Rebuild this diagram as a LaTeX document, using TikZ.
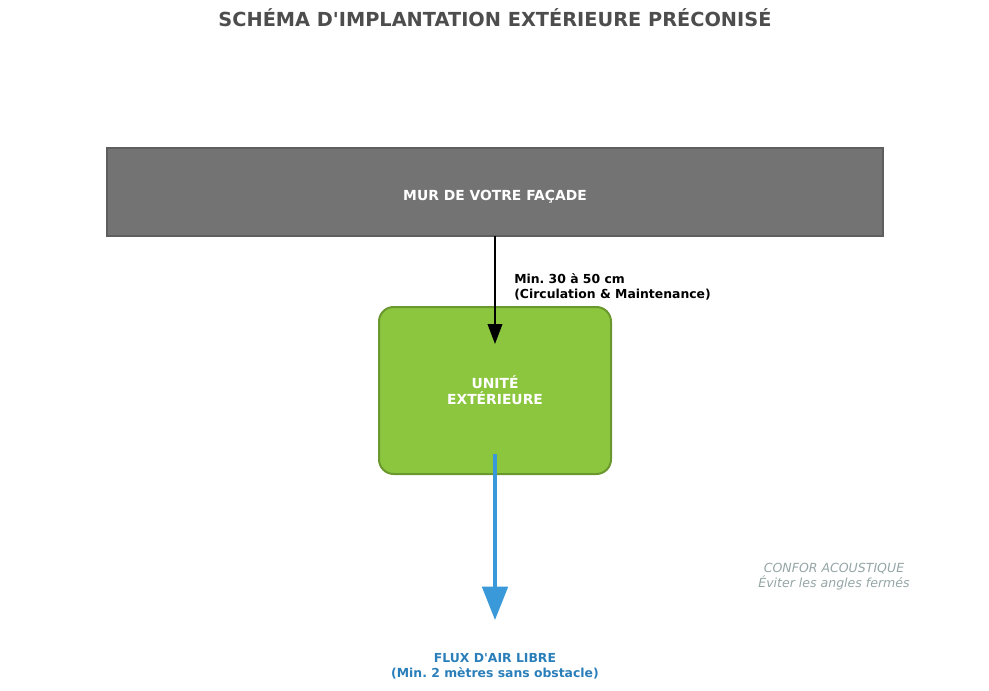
\documentclass[tikz,border=0pt]{standalone}
\usepackage{fontspec}
\setmainfont{DejaVu Sans}
\usetikzlibrary{arrows.meta}
\definecolor{wallc}{HTML}{737373}
\definecolor{walld}{HTML}{5E5E5E}
\definecolor{greenc}{HTML}{8CC63F}
\definecolor{greend}{HTML}{6B982E}
\definecolor{bluec}{HTML}{3A9AD9}
\definecolor{bluet}{HTML}{2A7FBA}
\definecolor{titlec}{HTML}{4D4D4D}
\definecolor{notec}{HTML}{95A5A6}
\tikzset{
 lbl/.style={font=\fontsize{9.3}{11.3}\selectfont\bfseries, align=center, inner sep=0},
 big/.style={font=\fontsize{10.4}{12}\selectfont\bfseries, align=center, inner sep=0},
}
\begin{document}
\frenchspacing
\begin{tikzpicture}[x=0.75pt,y=-0.75pt]
\useasboundingbox (0,0) rectangle (989,690);
\node[font=\fontsize{14.5}{17}\selectfont\bfseries, text=titlec] (title) at (495,18) {SCHÉMA D\textquotesingle IMPLANTATION EXTÉRIEURE PRÉCONISÉ};
\node[draw=walld, fill=wallc, minimum width=776*0.75pt, minimum height=88*0.75pt, line width=0.8pt] (wall) at (495,192) {};
\node[big, text=white] (walltxt) at (495,197) {MUR DE VOTRE FAÇADE};
\node[draw=greend, fill=greenc, rounded corners=11pt, line width=1.5pt, minimum width=232*0.75pt, minimum height=167*0.75pt] (unit) at (495,390.5) {};
\node[big, text=white] (unittxt) at (495,390) {UNITÉ\\EXTÉRIEURE};
\coordinate (a1) at (495,236);
\coordinate (a2) at (495,344);
\draw[line width=1.2pt, -{Triangle[width=11pt,length=15pt]}] (a1) -- (a2);
\node[lbl, align=left, anchor=west] (dist) at (514,287) {Min. 30 à 50 cm\\(Circulation \& Maintenance)};
\coordinate (b1) at (495,454);
\coordinate (b2) at (495,620);
\draw[bluec, line width=3pt, -{Triangle[width=19pt,length=25pt]}] (b1) -- (b2);
\node[lbl, text=bluet] (flux) at (495,666) {FLUX D\textquotesingle AIR LIBRE\\(Min. 2 mètres sans obstacle)};
\node[font=\fontsize{9.4}{11.4}\selectfont\itshape, text=notec, align=center] (note) at (834,577) {CONFOR ACOUSTIQUE\\Éviter les angles fermés};
\end{tikzpicture}
\end{document}
